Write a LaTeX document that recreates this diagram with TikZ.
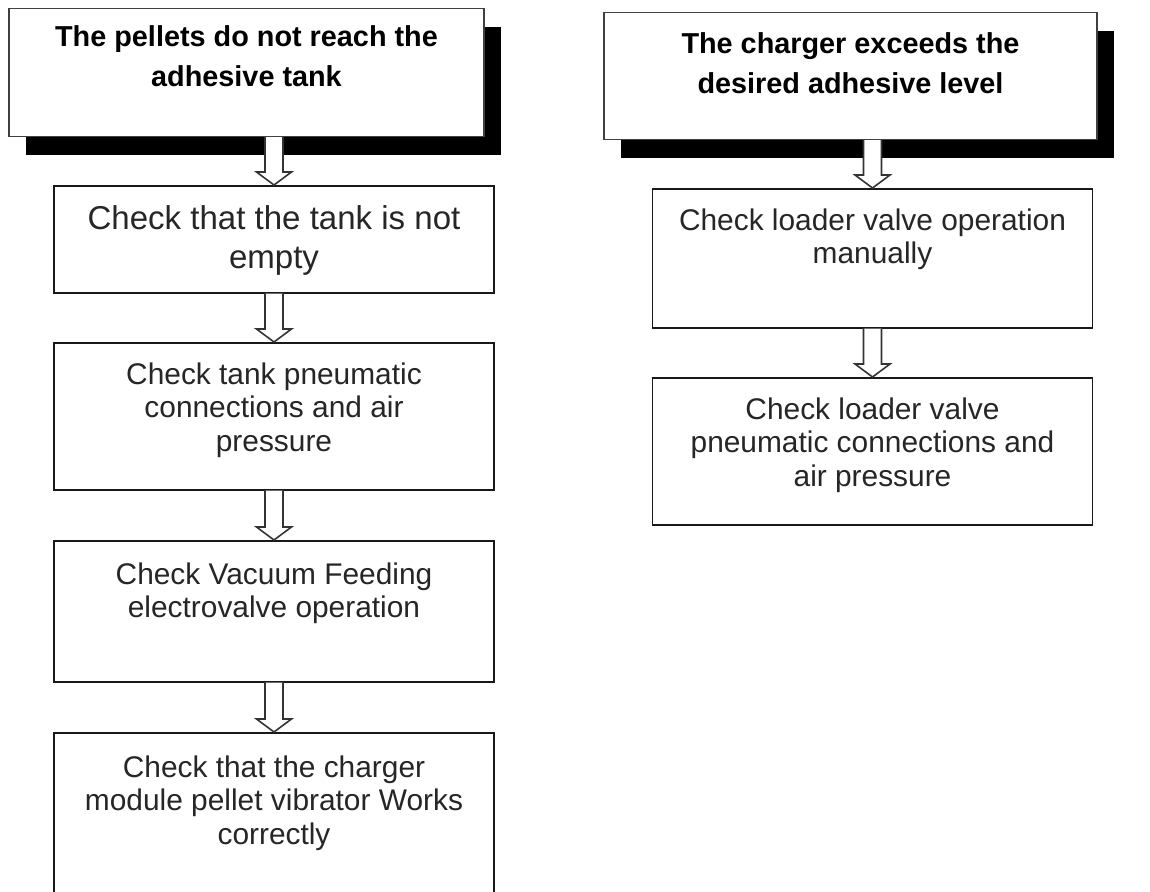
\documentclass[tikz,border=0pt]{standalone}
\usepackage{fontspec}
\setmainfont{Liberation Sans}
\usetikzlibrary{positioning, calc, shadows}

\begin{document}
\begin{tikzpicture}[
    headbox/.style={draw=black!75, line width=0.7pt, fill=white, anchor=north, inner sep=0pt,
      general shadow={fill=black, shadow xshift=0.34cm, shadow yshift=-0.36cm}},
    headtext/.style={anchor=north, align=center, inner sep=0pt, font=\bfseries\fontsize{16.4}{22.7}\selectfont},
    stepbox/.style={draw=black!90, line width=0.9pt, fill=white, anchor=north, inner sep=0pt, minimum width=8.8cm},
    steptext/.style={anchor=north, align=center, inner sep=0pt, text=black!85, font=\fontsize{17}{19.3}\selectfont},
    blockarrow/.style={draw=black!80, fill=white, line width=0.9pt,
      to path={($(\tikztostart -| \tikztotarget)+(-0.18,0)$) -- ($(\tikztotarget)+(-0.18,0.26)$)
        -- ($(\tikztotarget)+(-0.35,0.26)$) -- (\tikztotarget) -- ($(\tikztotarget)+(0.35,0.26)$)
        -- ($(\tikztotarget)+(0.18,0.26)$) -- ($(\tikztostart -| \tikztotarget)+(0.18,0)$)}}
  ]
    \clip (0,0) rectangle (23,-17.84);

    % Cabeceras con sombra
    \node[headbox, minimum width=9.5cm, minimum height=2.56cm] (h1) at (4.93,-0.16) {};
    \node[headtext, below=0.34cm of h1.north] (h1t) {The pellets do not reach the\\adhesive tank};
    \node[headbox, minimum width=9.86cm, minimum height=2.54cm] (h2) at (17.01,-0.24) {};
    \node[headtext, below=0.40cm of h2.north] (h2t) {The charger exceeds the\\desired adhesive level};

    % Columna izquierda
    \node[stepbox, minimum height=2.14cm] (l1) at (5.48,-3.70) {};
    \node[steptext, font=\fontsize{18.8}{22.1}\selectfont, below=0.4cm of l1.north] (l1t) {Check that the tank is not\\empty};
    \node[stepbox, minimum height=2.94cm] (l2) at (5.48,-6.84) {};
    \node[steptext, below=0.4cm of l2.north] (l2t) {Check tank pneumatic\\connections and air\\pressure};
    \node[stepbox, minimum height=2.82cm] (l3) at (5.48,-10.80) {};
    \node[steptext, below=0.44cm of l3.north] (l3t) {Check Vacuum Feeding\\electrovalve operation};
    \node[stepbox, line width=1.1pt, minimum height=3.4cm] (l4) at (5.48,-14.64) {};
    \node[steptext, below=0.46cm of l4.north] (l4t) {Check that the charger\\module pellet vibrator Works\\correctly};

    % Columna derecha
    \node[stepbox, minimum height=2.78cm] (r1) at (17.45,-3.76) {};
    \node[steptext, below=0.4cm of r1.north] (r1t) {Check loader valve operation\\manually};
    \node[stepbox, minimum height=2.94cm] (r2) at (17.45,-7.54) {};
    \node[steptext, below=0.4cm of r2.north] (r2t) {Check loader valve\\pneumatic connections and\\air pressure};

    % Flechas huecas
    \draw[blockarrow] (h1.south) to (l1.north);
    \draw[blockarrow] (l1.south) to (l2.north);
    \draw[blockarrow] (l2.south) to (l3.north);
    \draw[blockarrow] (l3.south) to (l4.north);
    \draw[blockarrow] (h2.south) to (r1.north);
    \draw[blockarrow] (r1.south) to (r2.north);
\end{tikzpicture}
\end{document}
